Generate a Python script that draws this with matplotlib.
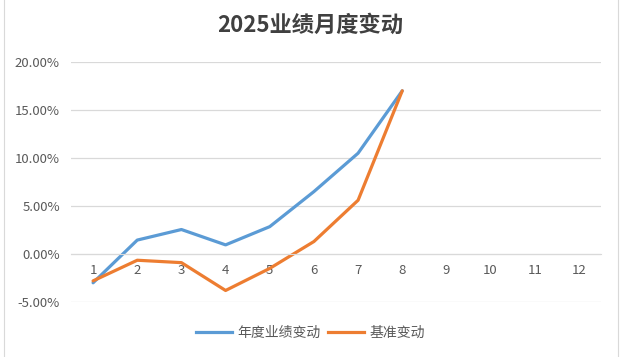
import matplotlib.pyplot as plt
from matplotlib.ticker import FuncFormatter
from matplotlib.lines import Line2D

plt.rcParams['font.family'] = ['Noto Sans CJK SC', 'DejaVu Sans']

months = list(range(1, 13))
labels = [str(m) for m in months]
perf = [-3.0, 1.45, 2.55, 0.95, 2.85, 6.5, 10.5, 17.0]       # 年度业绩变动, %
bench = [-2.8, -0.65, -0.9, -3.8, -1.5, 1.3, 5.6, 17.0]     # 基准变动, %

blue = "#5B9BD5"
orange = "#ED7D31"

fig = plt.figure(figsize=(6.21, 3.57), dpi=100)
ax = fig.add_axes([71/621, 1-302/357, 530/621, 240/357])

ax.plot(months[:len(perf)], perf, color=blue, lw=2.3, solid_capstyle='round', label="年度业绩变动")
ax.plot(months[:len(bench)], bench, color=orange, lw=2.3, solid_capstyle='round', label="基准变动")

ax.set_xlim(0.5, 12.5)
ax.set_ylim(-5, 20)
ax.set_yticks([-5, 0, 5, 10, 15, 20])
ax.yaxis.set_major_formatter(FuncFormatter(lambda v, p: f"{v:.2f}%"))
ax.set_xticks(months)
ax.set_xticklabels(labels)
ax.grid(axis='y', color='#d9d9d9', lw=0.9)
ax.set_axisbelow(True)
for s in ['top', 'right', 'left']:
    ax.spines[s].set_visible(False)
ax.spines['bottom'].set_position(('data', 0))
ax.spines['bottom'].set_color('#d9d9d9')
ax.tick_params(axis='both', length=0, labelsize=9.5, labelcolor='#595959')
ax.tick_params(axis='x', pad=7)
ax.tick_params(axis='y', pad=8)

fig.text(0.5, 1-25/357, "2025业绩月度变动", ha='center', va='center',
         fontsize=16, fontweight='bold', color='#404040')

handles = [Line2D([], [], color=blue, lw=2.3), Line2D([], [], color=orange, lw=2.3)]
fig.legend(handles, ["年度业绩变动", "基准变动"], loc='center', bbox_to_anchor=(0.5, 1-333/357),
           ncol=2, frameon=False, fontsize=10, labelcolor='#595959',
           handlelength=2.6, columnspacing=0.5, handletextpad=0.4)

# spreadsheet cell borders at the edges
fig.add_artist(Line2D([4/621, 4/621], [0, 1], color='#d9d9d9', lw=0.8))
fig.add_artist(Line2D([618/621, 618/621], [0, 1], color='#d9d9d9', lw=0.8))

fig.savefig("out.png", dpi=100)
